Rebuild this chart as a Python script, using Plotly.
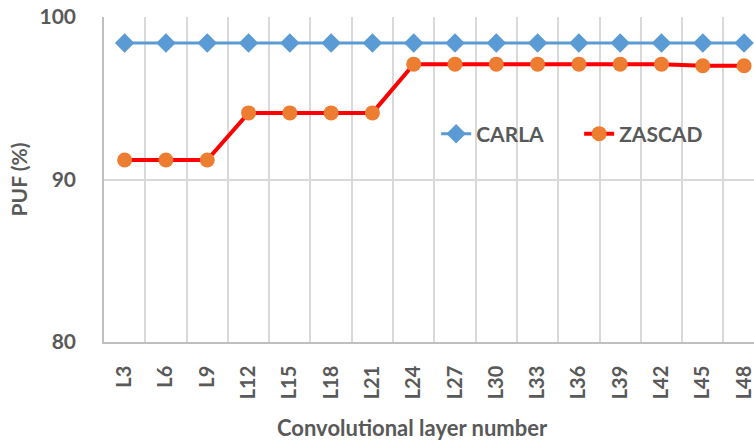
import plotly.graph_objects as go

# Convolutional layers on the x axis
layers = ["L3", "L6", "L9", "L12", "L15", "L18", "L21", "L24",
          "L27", "L30", "L33", "L36", "L39", "L42", "L45", "L48"]

# PUF (%) per layer for each method
carla = [98.4] * 16
zascad = [91.2, 91.2, 91.2, 94.1, 94.1, 94.1, 94.1, 97.1,
          97.1, 97.1, 97.1, 97.1, 97.1, 97.1, 97.0, 97.0]

y_ticks = [80, 90, 100]

FONT = "Lato"
GREY = "#595959"
GRID = "#d9d9d9"

fig = go.Figure()
fig.add_trace(go.Scatter(
    x=layers, y=carla, name="CARLA", mode="lines+markers",
    line=dict(color="#5B9BD5", width=3),
    marker=dict(symbol="diamond", size=15, color="#5B9BD5"),
))
fig.add_trace(go.Scatter(
    x=layers, y=zascad, name="ZASCAD", mode="lines+markers",
    line=dict(color="#FF0000", width=4),
    marker=dict(symbol="circle", size=15, color="#ED7D31"),
))

fig.update_layout(
    width=754, height=440,
    margin=dict(l=104, r=0, t=17, b=98),
    paper_bgcolor="white", plot_bgcolor="white",
    font=dict(family=FONT, color=GREY, size=18),
    showlegend=True,
    legend=dict(
        orientation="h", x=0.511, y=0.64, xanchor="left", yanchor="middle",
        bgcolor="rgba(0,0,0,0)",
        font=dict(family=FONT, size=21, color=GREY, weight="bold"),
        entrywidth=98, entrywidthmode="pixels",
    ),
    annotations=[dict(
        text="Convolutional layer number", xref="paper", yref="paper",
        x=0.474, y=-0.262, xanchor="center", yanchor="middle",
        showarrow=False,
        font=dict(family=FONT, size=22, color=GREY, weight="bold"),
    )],
)

fig.update_xaxes(
    type="category", range=[-0.5, 15.24],
    tickson="boundaries", ticks="", tickangle=-90,
    showgrid=True, gridcolor=GRID, gridwidth=1.5,
    showline=True, linecolor="#bfbfbf", linewidth=1.5,
    tickfont=dict(family=FONT, size=20, color=GREY, weight="bold"),
    ticklabelstandoff=14,
    automargin=False,
)
fig.update_yaxes(
    range=[80, 100], tickvals=y_ticks,
    showgrid=True, gridcolor=GRID, gridwidth=1.5,
    showline=True, linecolor="#bfbfbf", linewidth=1.5,
    zeroline=False, ticks="",
    ticklabelstandoff=22,
    tickfont=dict(family=FONT, size=21, color=GREY, weight="bold"),
    title=dict(text="PUF (%)", standoff=6,
               font=dict(family=FONT, size=21, color=GREY, weight="bold")),
    automargin=False,
)

fig.write_html("out.html")
